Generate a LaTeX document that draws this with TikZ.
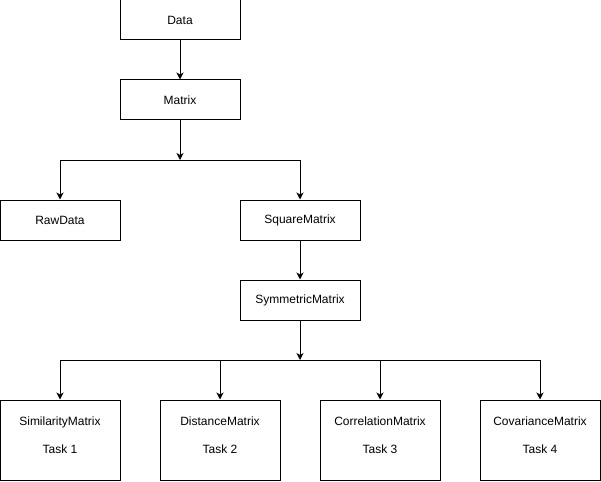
\documentclass[tikz,border=0pt]{standalone}
\usepackage{fontspec}
\setmainfont{Liberation Sans}
\usetikzlibrary{arrows.meta}
\tikzset{
  box/.style={draw, line width=1pt, minimum width=120pt, minimum height=40pt, inner sep=0pt, font=\fontsize{12}{14}\selectfont},
  taskbox/.style={box, minimum height=80pt, align=center, text depth=10pt},
  arr/.style={line width=1pt, -{Stealth[length=7pt,width=7pt,inset=2pt]}},
  link/.style={line width=1pt}
}
\begin{document}
\begin{tikzpicture}[x=1pt,y=1pt,yscale=-1,xscale=1]
                \useasboundingbox (0,0) rectangle (601,481);
                % boxes
                \node (data) [box] at (180,20) {Data};
                \node (matrix) [box] at (180,100) {Matrix};
                \node (rawdata) [box] at (60,220) {RawData};
                \node (square) [box] at (300,220) {SquareMatrix};
                \node (symmetric) [box] at (300,300) {SymmetricMatrix};
                \node (task1) [taskbox] at (60,440) {SimilarityMatrix\\[14pt]Task 1};
                \node (task2) [taskbox] at (220,440) {DistanceMatrix\\[14pt]Task 2};
                \node (task3) [taskbox] at (380,440) {CorrelationMatrix\\[14pt]Task 3};
                \node (task4) [taskbox] at (540,440) {CovarianceMatrix\\[14pt]Task 4};
                % split points
                \coordinate (fork1) at (180,160);
                \coordinate (fork2) at (300,360);
                % connectors
                \draw [arr] (data) -- (matrix);
                \draw [arr] (matrix) -- (fork1);
                \draw [link] (rawdata.north |- fork1) -- (square.north |- fork1);
                \draw [arr] (fork1) -| (rawdata.north);
                \draw [arr] (fork1) -| (square.north);
                \draw [arr] (square) -- (symmetric);
                \draw [arr] (symmetric) -- (fork2);
                \draw [link] (task1.north |- fork2) -- (task4.north |- fork2);
                \foreach \t in {task1,task2,task3,task4}
                    \draw [arr] (\t.north |- fork2) -- (\t.north);
            \end{tikzpicture}
\end{document}
